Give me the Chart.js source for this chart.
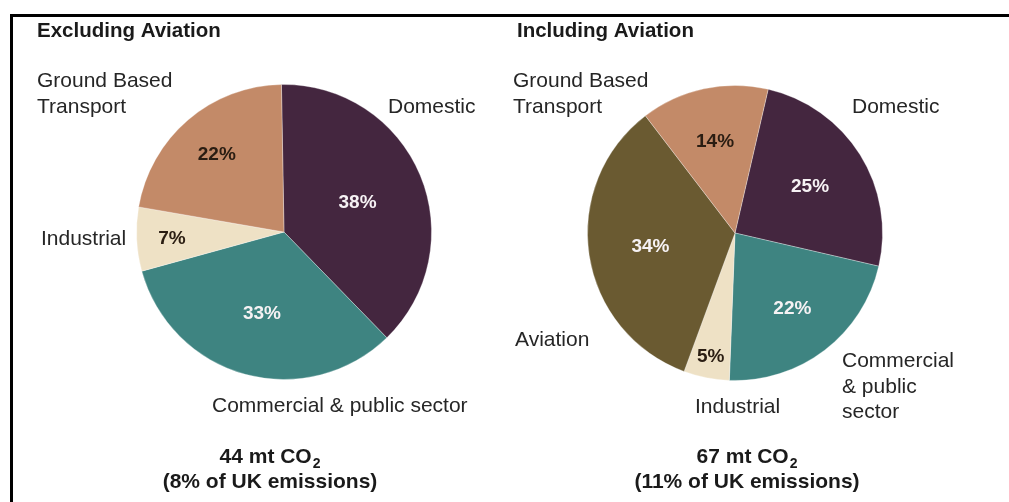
<!DOCTYPE html>
<html>
<head>
<meta charset="utf-8">
<script src="https://cdn.jsdelivr.net/npm/chart.js@4"></script>
<style>
  html, body { margin: 0; padding: 0; background: #fff; }
  #frame {
    position: absolute; left: 10px; top: 14px; width: 1100px; height: 600px;
    border-top: 3px solid #000; border-left: 3px solid #000;
  }
  canvas { position: absolute; top: 0; }
</style>
</head>
<body>
<div id="frame"></div>
<canvas id="excl" width="505" height="502" style="left:0"></canvas>
<canvas id="incl" width="504" height="502" style="left:505px"></canvas>
<script>
// Datos: emisiones excluyendo aviación
var exclLabels = ['Domestic', 'Commercial & public sector', 'Industrial', 'Ground Based Transport'];
var exclValues = [38, 33, 7, 22];
var exclTotal = ['44 mt CO', '(8% of UK emissions)'];

// Datos: emisiones incluyendo aviación
var inclLabels = ['Domestic', 'Commercial & public sector', 'Industrial', 'Aviation', 'Ground Based Transport'];
var inclValues = [25, 22, 5, 34, 14];
var inclTotal = ['67 mt CO', '(11% of UK emissions)'];

var colores = {
    'Domestic': '#44263f',
    'Commercial & public sector': '#3e8481',
    'Industrial': '#eee1c5',
    'Aviation': '#6a5a31',
    'Ground Based Transport': '#c38a68'
};
var textoPct = {
    'Domestic': '#f6f2f4',
    'Commercial & public sector': '#f6f2f4',
    'Industrial': '#2a1d12',
    'Aviation': '#f6f2f4',
    'Ground Based Transport': '#2a1d12'
};

var FONT = '"Liberation Sans", Arial, sans-serif';

// Partir un texto en líneas según un ancho máximo
function wrap(ctx, text, maxW) {
    var words = text.split(' ');
    var lines = [];
    var cur = '';
    words.forEach(function(w) {
        var t = cur ? cur + ' ' + w : w;
        if (cur && ctx.measureText(t).width > maxW) {
            lines.push(cur);
            cur = w;
        } else {
            cur = t;
        }
    });
    lines.push(cur);
    return lines;
}

// Plugin que dibuja títulos, porcentajes, etiquetas y totales
var textPlugin = {
    id: 'pageText',
    afterDatasetsDraw: function(chart, args, opts) {
        var ctx = chart.ctx;
        var meta = chart.getDatasetMeta(0);
        var data = chart.data.datasets[0].data;
        var labels = chart.data.labels;
        ctx.save();

        // porcentajes dentro de cada sector
        ctx.font = 'bold 19px ' + FONT;
        ctx.textAlign = 'center';
        ctx.textBaseline = 'middle';
        meta.data.forEach(function(arc, i) {
            var mid = (arc.startAngle + arc.endAngle) / 2;
            var r = arc.outerRadius * opts.pctRadius[i];
            ctx.fillStyle = textoPct[labels[i]];
            ctx.fillText(data[i] + '%', arc.x + Math.cos(mid) * r, arc.y + Math.sin(mid) * r + 1);
        });

        // título
        ctx.textBaseline = 'alphabetic';
        ctx.textAlign = 'left';
        ctx.fillStyle = '#1a1a1a';
        ctx.font = 'bold 20.5px ' + FONT;
        ctx.fillText(opts.title, opts.titleX, 37);

        // etiquetas de categoría
        ctx.font = '21px ' + FONT;
        ctx.fillStyle = '#262626';
        opts.callouts.forEach(function(c) {
            var lines = wrap(ctx, labels[c.i], c.maxW);
            lines.forEach(function(l, k) {
                ctx.fillText(l, c.x, c.y + k * 25.5);
            });
        });

        // total al pie
        ctx.fillStyle = '#1a1a1a';
        ctx.font = 'bold 21px ' + FONT;
        var w1 = ctx.measureText(opts.total[0]).width;
        ctx.font = 'bold 14px ' + FONT;
        var w2 = ctx.measureText('2').width;
        var x0 = opts.footX - (w1 + w2 + 1) / 2;
        ctx.font = 'bold 21px ' + FONT;
        ctx.fillText(opts.total[0], x0, 463);
        ctx.font = 'bold 14px ' + FONT;
        ctx.fillText('2', x0 + w1 + 1, 468);
        ctx.font = 'bold 21px ' + FONT;
        ctx.textAlign = 'center';
        ctx.fillText(opts.total[1], opts.footX, 488);
        ctx.restore();
    }
};

function crearPie(id, labels, values, rotation, padding, extra) {
    var ctx = document.getElementById(id).getContext('2d');
    return new Chart(ctx, {
        type: 'pie',
        data: {
            labels: labels,
            datasets: [{
                data: values,
                backgroundColor: labels.map(function(l) { return colores[l]; }),
                borderColor: 'rgba(255,255,255,0.3)',
                borderWidth: 1
            }]
        },
        options: {
            responsive: false,
            animation: false,
            rotation: rotation,
            layout: { padding: padding },
            plugins: {
                legend: { display: false },
                tooltip: { enabled: false },
                pageText: extra
            }
        },
        plugins: [textPlugin]
    });
}

crearPie('excl', exclLabels, exclValues, -1,
    { left: 136, right: 73, top: 84, bottom: 122 },
    {
        title: 'Excluding Aviation', titleX: 37,
        pctRadius: [0.54, 0.57, 0.76, 0.70],
        callouts: [
            { i: 3, x: 37, y: 87, maxW: 150 },
            { i: 0, x: 388, y: 113, maxW: 150 },
            { i: 2, x: 41, y: 245, maxW: 150 },
            { i: 1, x: 212, y: 412, maxW: 300 }
        ],
        total: exclTotal, footX: 270
    });

crearPie('incl', inclLabels, inclValues, 13,
    { left: 82, right: 126, top: 85, bottom: 121 },
    {
        title: 'Including Aviation', titleX: 12,
        pctRadius: [0.60, 0.64, 0.85, 0.58, 0.64],
        callouts: [
            { i: 4, x: 8, y: 87, maxW: 150 },
            { i: 0, x: 347, y: 113, maxW: 150 },
            { i: 3, x: 10, y: 346, maxW: 150 },
            { i: 2, x: 190, y: 413, maxW: 150 },
            { i: 1, x: 337, y: 367, maxW: 120 }
        ],
        total: inclTotal, footX: 242
    });
</script>
</body>
</html>
